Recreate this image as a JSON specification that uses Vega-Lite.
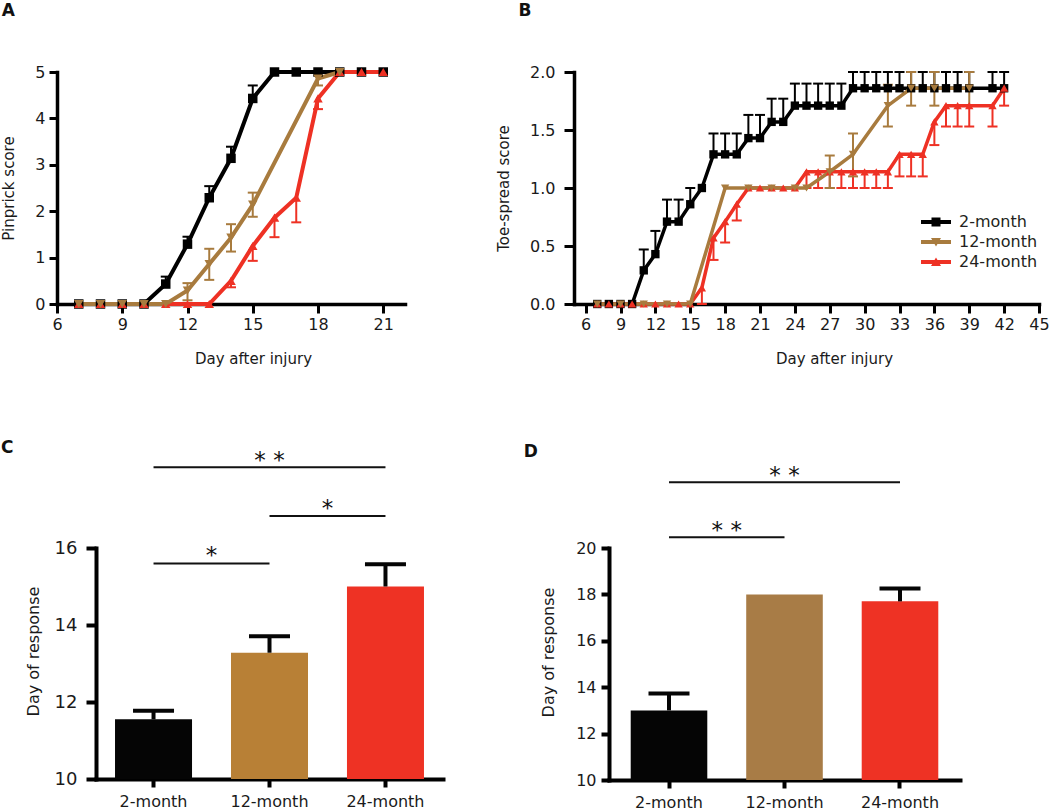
{
"$schema": "https://vega.github.io/schema/vega-lite/v6.json",
"padding": {"left": 0, "top": 2, "right": 0, "bottom": 0},
"background": "white",
"config": {
  "font": "DejaVu Sans",
  "view": {"stroke": null},
  "axis": {"grid": false, "domainColor": "#000000", "tickColor": "#000000", "labelColor": "#1a1a1a", "titleColor": "#1a1a1a", "titleFontWeight": "normal", "domainCap": "square", "labelFlush": false, "labelOverlap": false, "labelFont": "DejaVu Sans", "titleFont": "DejaVu Sans"},
  "title": {"anchor": "start", "frame": "bounds", "fontSize": 17, "fontWeight": "bold", "color": "#111111", "font": "DejaVu Sans"},
  "tick": {"opacity": 1},
  "point": {"opacity": 1}
},
"datasets": {
  "pin": [
    {"g": "2-month", "d": 7, "m": 0}, {"g": "2-month", "d": 8, "m": 0}, {"g": "2-month", "d": 9, "m": 0}, {"g": "2-month", "d": 10, "m": 0},
    {"g": "2-month", "d": 11, "m": 0.43}, {"g": "2-month", "d": 12, "m": 1.29}, {"g": "2-month", "d": 13, "m": 2.29}, {"g": "2-month", "d": 14, "m": 3.14},
    {"g": "2-month", "d": 15, "m": 4.43}, {"g": "2-month", "d": 16, "m": 5}, {"g": "2-month", "d": 17, "m": 5}, {"g": "2-month", "d": 18, "m": 5},
    {"g": "2-month", "d": 19, "m": 5}, {"g": "2-month", "d": 20, "m": 5}, {"g": "2-month", "d": 21, "m": 5},
    {"g": "24-month", "d": 7, "m": 0}, {"g": "24-month", "d": 8, "m": 0}, {"g": "24-month", "d": 9, "m": 0}, {"g": "24-month", "d": 10, "m": 0},
    {"g": "24-month", "d": 11, "m": 0}, {"g": "24-month", "d": 12, "m": 0}, {"g": "24-month", "d": 13, "m": 0}, {"g": "24-month", "d": 14, "m": 0.5},
    {"g": "24-month", "d": 15, "m": 1.25}, {"g": "24-month", "d": 16, "m": 1.86}, {"g": "24-month", "d": 17, "m": 2.29}, {"g": "24-month", "d": 18, "m": 4.43},
    {"g": "24-month", "d": 19, "m": 5}, {"g": "24-month", "d": 20, "m": 5}, {"g": "24-month", "d": 21, "m": 5},
    {"g": "12-month", "d": 7, "m": 0}, {"g": "12-month", "d": 8, "m": 0}, {"g": "12-month", "d": 9, "m": 0}, {"g": "12-month", "d": 10, "m": 0},
    {"g": "12-month", "d": 11, "m": 0}, {"g": "12-month", "d": 12, "m": 0.29}, {"g": "12-month", "d": 13, "m": 0.86}, {"g": "12-month", "d": 14, "m": 1.43},
    {"g": "12-month", "d": 15, "m": 2.14}, {"g": "12-month", "d": 18, "m": 4.86}, {"g": "12-month", "d": 19, "m": 5}
  ],
  "pinErr": [
    {"g": "2-month", "d": 11, "lo": 0.43, "hi": 0.59}, {"g": "2-month", "d": 12, "lo": 1.29, "hi": 1.45}, {"g": "2-month", "d": 13, "lo": 2.29, "hi": 2.54},
    {"g": "2-month", "d": 14, "lo": 3.14, "hi": 3.39}, {"g": "2-month", "d": 15, "lo": 4.43, "hi": 4.71},
    {"g": "24-month", "d": 14, "lo": 0.36, "hi": 0.5}, {"g": "24-month", "d": 15, "lo": 0.93, "hi": 1.25}, {"g": "24-month", "d": 16, "lo": 1.44, "hi": 1.86},
    {"g": "24-month", "d": 17, "lo": 1.76, "hi": 2.29}, {"g": "24-month", "d": 18, "lo": 4.2, "hi": 4.43},
    {"g": "12-month", "d": 12, "lo": 0.08, "hi": 0.45}, {"g": "12-month", "d": 13, "lo": 0.52, "hi": 1.19}, {"g": "12-month", "d": 14, "lo": 1.13, "hi": 1.72},
    {"g": "12-month", "d": 15, "lo": 1.88, "hi": 2.4}, {"g": "12-month", "d": 18, "lo": 4.71, "hi": 5.0}
  ],
  "toe": [
    {"g": "2-month", "d": 7, "m": 0}, {"g": "2-month", "d": 8, "m": 0}, {"g": "2-month", "d": 9, "m": 0}, {"g": "2-month", "d": 10, "m": 0},
    {"g": "2-month", "d": 11, "m": 0.29}, {"g": "2-month", "d": 12, "m": 0.43}, {"g": "2-month", "d": 13, "m": 0.71}, {"g": "2-month", "d": 14, "m": 0.71},
    {"g": "2-month", "d": 15, "m": 0.86}, {"g": "2-month", "d": 16, "m": 1.0}, {"g": "2-month", "d": 17, "m": 1.29}, {"g": "2-month", "d": 18, "m": 1.29},
    {"g": "2-month", "d": 19, "m": 1.29}, {"g": "2-month", "d": 20, "m": 1.43}, {"g": "2-month", "d": 21, "m": 1.43}, {"g": "2-month", "d": 22, "m": 1.57},
    {"g": "2-month", "d": 23, "m": 1.57}, {"g": "2-month", "d": 24, "m": 1.71}, {"g": "2-month", "d": 25, "m": 1.71}, {"g": "2-month", "d": 26, "m": 1.71},
    {"g": "2-month", "d": 27, "m": 1.71}, {"g": "2-month", "d": 28, "m": 1.71}, {"g": "2-month", "d": 29, "m": 1.86}, {"g": "2-month", "d": 30, "m": 1.86},
    {"g": "2-month", "d": 31, "m": 1.86}, {"g": "2-month", "d": 32, "m": 1.86}, {"g": "2-month", "d": 33, "m": 1.86}, {"g": "2-month", "d": 34, "m": 1.86},
    {"g": "2-month", "d": 35, "m": 1.86}, {"g": "2-month", "d": 36, "m": 1.86}, {"g": "2-month", "d": 37, "m": 1.86}, {"g": "2-month", "d": 38, "m": 1.86},
    {"g": "2-month", "d": 39, "m": 1.86}, {"g": "2-month", "d": 41, "m": 1.86}, {"g": "2-month", "d": 42, "m": 1.86},
    {"g": "24-month", "d": 7, "m": 0}, {"g": "24-month", "d": 8, "m": 0}, {"g": "24-month", "d": 9, "m": 0}, {"g": "24-month", "d": 10, "m": 0},
    {"g": "24-month", "d": 11, "m": 0}, {"g": "24-month", "d": 12, "m": 0}, {"g": "24-month", "d": 13, "m": 0}, {"g": "24-month", "d": 14, "m": 0},
    {"g": "24-month", "d": 15, "m": 0}, {"g": "24-month", "d": 16, "m": 0.14}, {"g": "24-month", "d": 17, "m": 0.57}, {"g": "24-month", "d": 18, "m": 0.71},
    {"g": "24-month", "d": 19, "m": 0.86}, {"g": "24-month", "d": 20, "m": 1.0}, {"g": "24-month", "d": 21, "m": 1.0}, {"g": "24-month", "d": 22, "m": 1.0},
    {"g": "24-month", "d": 23, "m": 1.0}, {"g": "24-month", "d": 24, "m": 1.0}, {"g": "24-month", "d": 25, "m": 1.14}, {"g": "24-month", "d": 26, "m": 1.14},
    {"g": "24-month", "d": 27, "m": 1.14}, {"g": "24-month", "d": 28, "m": 1.14}, {"g": "24-month", "d": 29, "m": 1.14}, {"g": "24-month", "d": 30, "m": 1.14},
    {"g": "24-month", "d": 31, "m": 1.14}, {"g": "24-month", "d": 32, "m": 1.14}, {"g": "24-month", "d": 33, "m": 1.29}, {"g": "24-month", "d": 34, "m": 1.29},
    {"g": "24-month", "d": 35, "m": 1.29}, {"g": "24-month", "d": 36, "m": 1.57}, {"g": "24-month", "d": 37, "m": 1.71}, {"g": "24-month", "d": 38, "m": 1.71},
    {"g": "24-month", "d": 39, "m": 1.71}, {"g": "24-month", "d": 41, "m": 1.71}, {"g": "24-month", "d": 42, "m": 1.86},
    {"g": "12-month", "d": 7, "m": 0}, {"g": "12-month", "d": 9, "m": 0}, {"g": "12-month", "d": 11, "m": 0}, {"g": "12-month", "d": 13, "m": 0},
    {"g": "12-month", "d": 15, "m": 0}, {"g": "12-month", "d": 18, "m": 1.0}, {"g": "12-month", "d": 20, "m": 1.0}, {"g": "12-month", "d": 22, "m": 1.0},
    {"g": "12-month", "d": 24, "m": 1.0}, {"g": "12-month", "d": 25, "m": 1.0}, {"g": "12-month", "d": 27, "m": 1.14}, {"g": "12-month", "d": 29, "m": 1.29},
    {"g": "12-month", "d": 32, "m": 1.71}, {"g": "12-month", "d": 34, "m": 1.86}, {"g": "12-month", "d": 36, "m": 1.86}, {"g": "12-month", "d": 39, "m": 1.86}
  ],
  "toeErr": [
    {"g": "2-month", "d": 11, "lo": 0.29, "hi": 0.47}, {"g": "2-month", "d": 12, "lo": 0.43, "hi": 0.63}, {"g": "2-month", "d": 13, "lo": 0.71, "hi": 0.9},
    {"g": "2-month", "d": 14, "lo": 0.71, "hi": 0.9}, {"g": "2-month", "d": 15, "lo": 0.86, "hi": 1.0}, {"g": "2-month", "d": 17, "lo": 1.29, "hi": 1.47},
    {"g": "2-month", "d": 18, "lo": 1.29, "hi": 1.47}, {"g": "2-month", "d": 19, "lo": 1.29, "hi": 1.47}, {"g": "2-month", "d": 20, "lo": 1.43, "hi": 1.63},
    {"g": "2-month", "d": 21, "lo": 1.43, "hi": 1.63}, {"g": "2-month", "d": 22, "lo": 1.57, "hi": 1.77}, {"g": "2-month", "d": 23, "lo": 1.57, "hi": 1.77},
    {"g": "2-month", "d": 24, "lo": 1.71, "hi": 1.9}, {"g": "2-month", "d": 25, "lo": 1.71, "hi": 1.9}, {"g": "2-month", "d": 26, "lo": 1.71, "hi": 1.9},
    {"g": "2-month", "d": 27, "lo": 1.71, "hi": 1.9}, {"g": "2-month", "d": 28, "lo": 1.71, "hi": 1.9}, {"g": "2-month", "d": 29, "lo": 1.86, "hi": 2.0},
    {"g": "2-month", "d": 30, "lo": 1.86, "hi": 2.0}, {"g": "2-month", "d": 31, "lo": 1.86, "hi": 2.0}, {"g": "2-month", "d": 32, "lo": 1.86, "hi": 2.0},
    {"g": "2-month", "d": 33, "lo": 1.86, "hi": 2.0}, {"g": "2-month", "d": 34, "lo": 1.86, "hi": 2.0}, {"g": "2-month", "d": 35, "lo": 1.86, "hi": 2.0},
    {"g": "2-month", "d": 36, "lo": 1.86, "hi": 2.0}, {"g": "2-month", "d": 37, "lo": 1.86, "hi": 2.0}, {"g": "2-month", "d": 38, "lo": 1.86, "hi": 2.0},
    {"g": "2-month", "d": 39, "lo": 1.86, "hi": 2.0}, {"g": "2-month", "d": 41, "lo": 1.86, "hi": 2.0}, {"g": "2-month", "d": 42, "lo": 1.86, "hi": 2.0},
    {"g": "24-month", "d": 16, "lo": 0, "hi": 0.14}, {"g": "24-month", "d": 17, "lo": 0.38, "hi": 0.57}, {"g": "24-month", "d": 18, "lo": 0.53, "hi": 0.71},
    {"g": "24-month", "d": 19, "lo": 0.72, "hi": 0.86}, {"g": "24-month", "d": 25, "lo": 1.0, "hi": 1.14}, {"g": "24-month", "d": 26, "lo": 1.0, "hi": 1.14},
    {"g": "24-month", "d": 27, "lo": 1.0, "hi": 1.14}, {"g": "24-month", "d": 28, "lo": 1.0, "hi": 1.14}, {"g": "24-month", "d": 29, "lo": 1.0, "hi": 1.14},
    {"g": "24-month", "d": 30, "lo": 1.0, "hi": 1.14}, {"g": "24-month", "d": 31, "lo": 1.0, "hi": 1.14}, {"g": "24-month", "d": 32, "lo": 1.0, "hi": 1.14},
    {"g": "24-month", "d": 33, "lo": 1.1, "hi": 1.29}, {"g": "24-month", "d": 34, "lo": 1.1, "hi": 1.29}, {"g": "24-month", "d": 35, "lo": 1.1, "hi": 1.29},
    {"g": "24-month", "d": 36, "lo": 1.37, "hi": 1.57}, {"g": "24-month", "d": 37, "lo": 1.53, "hi": 1.71}, {"g": "24-month", "d": 38, "lo": 1.53, "hi": 1.71},
    {"g": "24-month", "d": 39, "lo": 1.53, "hi": 1.71}, {"g": "24-month", "d": 41, "lo": 1.53, "hi": 1.71}, {"g": "24-month", "d": 42, "lo": 1.71, "hi": 1.86},
    {"g": "12-month", "d": 27, "lo": 1.0, "hi": 1.28}, {"g": "12-month", "d": 29, "lo": 1.1, "hi": 1.47}, {"g": "12-month", "d": 32, "lo": 1.53, "hi": 1.89},
    {"g": "12-month", "d": 34, "lo": 1.71, "hi": 2.0}, {"g": "12-month", "d": 36, "lo": 1.71, "hi": 2.0}, {"g": "12-month", "d": 39, "lo": 1.71, "hi": 2.0}
  ],
  "barC": [
    {"g": "2-month", "v": 11.55, "hi": 11.77}, {"g": "12-month", "v": 13.28, "hi": 13.71}, {"g": "24-month", "v": 15.0, "hi": 15.58}
  ],
  "barD": [
    {"g": "2-month", "v": 13.0, "hi": 13.73}, {"g": "12-month", "v": 18.0, "hi": null}, {"g": "24-month", "v": 17.7, "hi": 18.25}
  ],
  "sigC": [
    {"a": "2-month", "b": "12-month", "y": 15.6, "t": "*"},
    {"a": "12-month", "b": "24-month", "y": 16.83, "t": "*"},
    {"a": "2-month", "b": "24-month", "y": 18.1, "t": "* *"}
  ],
  "sigD": [
    {"a": "2-month", "b": "12-month", "y": 20.46, "t": "* *"},
    {"a": "2-month", "b": "24-month", "y": 22.83, "t": "* *"}
  ],
  "none": []
},
"resolve": {"scale": {"x": "independent", "y": "independent", "color": "independent"}, "legend": {"color": "independent"}},
"spacing": 73,
"vconcat": [
{
  "spacing": 91,
  "resolve": {"scale": {"x": "independent", "y": "independent", "color": "independent"}, "legend": {"color": "independent"}},
  "hconcat": [
  {
    "spacing": 0,
    "resolve": {"scale": {"x": "independent", "y": "independent", "color": "independent"}, "legend": {"color": "independent"}},
    "hconcat": [
    {"width": 1, "height": 1, "data": {"name": "none"}, "mark": {"type": "point", "opacity": 0}, "encoding": {}},
    {
    "width": 348, "height": 232,
    "title": {"text": "A", "offset": 44, "dx": 0},
    "layer": [
      {"data": {"name": "pinErr"}, "mark": {"type": "rule", "strokeWidth": 2},
       "encoding": {
         "x": {"field": "d", "type": "quantitative", "scale": {"domain": [6, 22], "nice": false, "zero": false},
               "axis": {"values": [6, 9, 12, 15, 18, 21], "format": "d", "title": "Day after injury", "domainWidth": 3.5, "tickWidth": 3, "tickSize": 9, "labelPadding": 3, "labelFontSize": 16, "titleFontSize": 15, "titlePadding": 19, "titleX": 196, "labelOverlap": false}},
         "y": {"field": "lo", "type": "quantitative", "scale": {"domain": [0, 5], "nice": false},
               "axis": {"values": [0, 1, 2, 3, 4, 5], "format": "d", "title": "Pinprick score", "domainWidth": 3.5, "tickWidth": 3, "tickSize": 8, "labelPadding": 4, "labelFontSize": 16, "titleFontSize": 15, "titlePadding": 18}},
         "y2": {"field": "hi"},
         "color": {"field": "g", "type": "nominal", "scale": {"domain": ["2-month", "12-month", "24-month"], "range": ["#000000", "#a87b3e", "#ee3124"]}, "legend": null}
       }},
      {"data": {"name": "pinErr"}, "transform": [{"filter": "datum.g !== '24-month'"}], "mark": {"type": "tick", "orient": "horizontal", "size": 10, "thickness": 2},
       "encoding": {"x": {"field": "d", "type": "quantitative"}, "y": {"field": "hi", "type": "quantitative"}, "color": {"field": "g", "type": "nominal", "legend": null}}},
      {"data": {"name": "pinErr"}, "transform": [{"filter": "datum.g !== '2-month'"}], "mark": {"type": "tick", "orient": "horizontal", "size": 10, "thickness": 2},
       "encoding": {"x": {"field": "d", "type": "quantitative"}, "y": {"field": "lo", "type": "quantitative"}, "color": {"field": "g", "type": "nominal", "legend": null}}},
      {"data": {"name": "pin"}, "mark": {"type": "line", "strokeWidth": 4},
       "encoding": {"x": {"field": "d", "type": "quantitative"}, "y": {"field": "m", "type": "quantitative"}, "color": {"field": "g", "type": "nominal", "legend": null}}},
      {"data": {"name": "pin"}, "transform": [{"filter": "datum.g === '2-month'"}], "mark": {"type": "point", "filled": true, "size": 90, "shape": "square"},
       "encoding": {"x": {"field": "d", "type": "quantitative"}, "y": {"field": "m", "type": "quantitative"}, "color": {"field": "g", "type": "nominal", "legend": null}}},
      {"data": {"name": "pin"}, "transform": [{"filter": "datum.g === '24-month'"}], "mark": {"type": "point", "filled": true, "size": 90, "shape": "triangle-up"},
       "encoding": {"x": {"field": "d", "type": "quantitative"}, "y": {"field": "m", "type": "quantitative"}, "color": {"field": "g", "type": "nominal", "legend": null}}},
      {"data": {"name": "pin"}, "transform": [{"filter": "datum.g === '12-month'"}], "mark": {"type": "point", "filled": true, "size": 90, "shape": "triangle-down"},
       "encoding": {"x": {"field": "d", "type": "quantitative"}, "y": {"field": "m", "type": "quantitative"}, "color": {"field": "g", "type": "nominal", "legend": null}}}
    ]
    }
    ]
  },
  {
    "width": 465, "height": 232,
    "title": {"text": "B", "offset": 44, "dx": 22},
    "layer": [
      {"data": {"name": "toeErr"}, "mark": {"type": "rule", "strokeWidth": 2},
       "encoding": {
         "x": {"field": "d", "type": "quantitative", "scale": {"domain": [5, 45], "nice": false, "zero": false},
               "axis": {"values": [6, 9, 12, 15, 18, 21, 24, 27, 30, 33, 36, 39, 42, 45], "tickCount": 40, "format": "d", "title": "Day after injury", "domainWidth": 3.5, "tickWidth": 3, "tickSize": 9, "labelPadding": 3, "labelFontSize": 16, "titleFontSize": 15, "titlePadding": 19, "titleX": 260, "labelOverlap": false}},
         "y": {"field": "lo", "type": "quantitative", "scale": {"domain": [0, 2], "nice": false},
               "axis": {"values": [0, 0.5, 1, 1.5, 2], "format": ".1f", "title": "Toe-spread score", "domainWidth": 3.5, "tickWidth": 3, "tickSize": 10, "labelPadding": 9, "labelFontSize": 16, "titleFontSize": 15, "titlePadding": 18}},
         "y2": {"field": "hi"},
         "color": {"field": "g", "type": "nominal", "scale": {"domain": ["2-month", "12-month", "24-month"], "range": ["#000000", "#a87b3e", "#ee3124"]},
                   "legend": {"orient": "none", "legendX": 352, "legendY": 140, "title": null, "padding": 0, "labelFontSize": 16, "labelColor": "#231f20", "labelFont": "DejaVu Sans", "symbolSize": 400, "rowPadding": 2, "labelOffset": 13, "symbolStrokeWidth": 0,
                     "encode": {"symbols": {"update": {
                       "shape": {"signal": "datum.value === '2-month' ? 'M-1.5,-0.2H1.5V0.2H-1.5Z M-0.45,-0.45H0.45V0.45H-0.45Z' : datum.value === '12-month' ? 'M-1.5,-0.2H1.5V0.2H-1.5Z M-0.5,-0.4L0.5,-0.4L0,0.45Z' : 'M-1.5,-0.2H1.5V0.2H-1.5Z M-0.5,0.4L0,-0.45L0.5,0.4Z'"},
                       "fill": {"signal": "datum.value === '2-month' ? '#000000' : datum.value === '12-month' ? '#a87b3e' : '#ee3124'"},
                       "fillOpacity": {"value": 1}, "strokeWidth": {"value": 0}, "opacity": {"value": 1}}}}}}
       }},
      {"data": {"name": "toeErr"}, "transform": [{"filter": "datum.g !== '24-month'"}], "mark": {"type": "tick", "orient": "horizontal", "size": 10, "thickness": 2},
       "encoding": {"x": {"field": "d", "type": "quantitative"}, "y": {"field": "hi", "type": "quantitative"}, "color": {"field": "g", "type": "nominal"}}},
      {"data": {"name": "toeErr"}, "transform": [{"filter": "datum.g !== '2-month'"}], "mark": {"type": "tick", "orient": "horizontal", "size": 10, "thickness": 2},
       "encoding": {"x": {"field": "d", "type": "quantitative"}, "y": {"field": "lo", "type": "quantitative"}, "color": {"field": "g", "type": "nominal"}}},
      {"data": {"name": "toe"}, "mark": {"type": "line", "strokeWidth": 3.5},
       "encoding": {"x": {"field": "d", "type": "quantitative"}, "y": {"field": "m", "type": "quantitative"}, "color": {"field": "g", "type": "nominal"}}},
      {"data": {"name": "toe"}, "transform": [{"filter": "datum.g === '2-month'"}], "mark": {"type": "point", "filled": true, "size": 70, "shape": "square"},
       "encoding": {"x": {"field": "d", "type": "quantitative"}, "y": {"field": "m", "type": "quantitative"}, "color": {"field": "g", "type": "nominal"}}},
      {"data": {"name": "toe"}, "transform": [{"filter": "datum.g === '24-month'"}], "mark": {"type": "point", "filled": true, "size": 70, "shape": "triangle-up"},
       "encoding": {"x": {"field": "d", "type": "quantitative"}, "y": {"field": "m", "type": "quantitative"}, "color": {"field": "g", "type": "nominal"}}},
      {"data": {"name": "toe"}, "transform": [{"filter": "datum.g === '12-month'"}], "mark": {"type": "point", "filled": true, "size": 70, "shape": "triangle-down"},
       "encoding": {"x": {"field": "d", "type": "quantitative"}, "y": {"field": "m", "type": "quantitative"}, "color": {"field": "g", "type": "nominal"}}}
    ]
  }
  ]
},
{
  "spacing": 80,
  "resolve": {"scale": {"x": "independent", "y": "independent", "color": "independent"}, "legend": {"color": "independent"}},
  "hconcat": [
  {
    "spacing": 0,
    "resolve": {"scale": {"x": "independent", "y": "independent", "color": "independent"}, "legend": {"color": "independent"}},
    "hconcat": [
    {"width": 1, "height": 1, "data": {"name": "none"}, "mark": {"type": "point", "opacity": 0}, "encoding": {}},
    {
    "width": 347, "height": 231,
    "title": {"text": "C", "offset": -7, "dx": -24},
    "layer": [
      {"data": {"name": "barC"}, "mark": {"type": "bar", "clip": true},
       "encoding": {
         "x": {"field": "g", "type": "nominal", "scale": {"type": "band", "domain": ["2-month", "12-month", "24-month"], "paddingInner": 0.336, "paddingOuter": 0.164},
               "axis": {"title": null, "labelAngle": 0, "labelFontSize": 16, "tickSize": 8, "tickWidth": 4, "domainWidth": 4, "labelPadding": 6}},
         "y": {"field": "v", "type": "quantitative", "scale": {"domain": [10, 16], "nice": false, "zero": false},
               "axis": {"values": [10, 12, 14, 16], "format": "d", "title": "Day of response", "titleFontSize": 16, "labelFontSize": 18, "tickSize": 10, "tickWidth": 4, "domainWidth": 4, "labelPadding": 9, "titlePadding": 13, "titleY": 103}},
         "color": {"field": "g", "type": "nominal", "scale": {"domain": ["2-month", "12-month", "24-month"], "range": ["#050505", "#b88036", "#ee3224"]}, "legend": null}
       }},
      {"data": {"name": "barC"}, "mark": {"type": "rule", "strokeWidth": 4, "color": "#050505"},
       "encoding": {"x": {"field": "g", "type": "nominal"}, "y": {"field": "v", "type": "quantitative"}, "y2": {"field": "hi"}}},
      {"data": {"name": "barC"}, "mark": {"type": "tick", "orient": "horizontal", "size": 41, "thickness": 4, "color": "#050505"},
       "encoding": {"x": {"field": "g", "type": "nominal"}, "y": {"field": "hi", "type": "quantitative"}}},
      {"data": {"name": "sigC"}, "mark": {"type": "rule", "strokeWidth": 2, "color": "#111111"},
       "encoding": {"x": {"field": "a", "type": "nominal"}, "x2": {"field": "b"}, "y": {"field": "y", "type": "quantitative"}}},
      {"data": {"name": "sigC"}, "transform": [{"filter": "!(datum.a === '2-month' && datum.b === '24-month')"}], "mark": {"type": "text", "fontSize": 23, "dy": 0, "baseline": "alphabetic", "color": "#111111"},
       "encoding": {"x": {"field": "b", "type": "nominal", "bandPosition": -0.253}, "y": {"field": "y", "type": "quantitative"}, "text": {"field": "t"}}},
      {"data": {"name": "sigC"}, "transform": [{"filter": "datum.a === '2-month' && datum.b === '24-month'"}], "mark": {"type": "text", "fontSize": 23, "dy": 1, "baseline": "alphabetic", "color": "#111111"},
       "encoding": {"x": {"field": "b", "type": "nominal", "bandPosition": -1.006}, "y": {"field": "y", "type": "quantitative"}, "text": {"field": "t"}}}
    ]
    }
    ]
  },
  {
    "width": 351, "height": 232,
    "title": {"text": "D", "offset": 4, "dx": -17},
    "layer": [
      {"data": {"name": "barD"}, "mark": {"type": "bar", "clip": true},
       "encoding": {
         "x": {"field": "g", "type": "nominal", "scale": {"type": "band", "domain": ["2-month", "12-month", "24-month"], "paddingInner": 0.337, "paddingOuter": 0.188},
               "axis": {"title": null, "labelAngle": 0, "labelFontSize": 16, "tickSize": 8, "tickWidth": 4, "domainWidth": 4, "labelPadding": 6}},
         "y": {"field": "v", "type": "quantitative", "scale": {"domain": [10, 20], "nice": false, "zero": false},
               "axis": {"values": [10, 12, 14, 16, 18, 20], "format": "d", "title": "Day of response", "titleFontSize": 16, "labelFontSize": 16, "tickSize": 8, "tickWidth": 4, "domainWidth": 4, "labelPadding": 5, "titlePadding": 19, "titleY": 104}},
         "color": {"field": "g", "type": "nominal", "scale": {"domain": ["2-month", "12-month", "24-month"], "range": ["#050505", "#a87c46", "#ee3224"]}, "legend": null}
       }},
      {"data": {"name": "barD"}, "transform": [{"filter": "isValid(datum.hi)"}], "mark": {"type": "rule", "strokeWidth": 4, "color": "#050505"},
       "encoding": {"x": {"field": "g", "type": "nominal"}, "y": {"field": "v", "type": "quantitative"}, "y2": {"field": "hi"}}},
      {"data": {"name": "barD"}, "transform": [{"filter": "isValid(datum.hi)"}], "mark": {"type": "tick", "orient": "horizontal", "size": 41, "thickness": 4, "color": "#050505"},
       "encoding": {"x": {"field": "g", "type": "nominal"}, "y": {"field": "hi", "type": "quantitative"}}},
      {"data": {"name": "sigD"}, "mark": {"type": "rule", "strokeWidth": 2, "color": "#111111"},
       "encoding": {"x": {"field": "a", "type": "nominal"}, "x2": {"field": "b"}, "y": {"field": "y", "type": "quantitative"}}},
      {"data": {"name": "sigD"}, "transform": [{"filter": "datum.b === '12-month'"}], "mark": {"type": "text", "fontSize": 23, "dy": 1, "baseline": "alphabetic", "color": "#111111"},
       "encoding": {"x": {"field": "b", "type": "nominal", "bandPosition": -0.254}, "y": {"field": "y", "type": "quantitative"}, "text": {"field": "t"}}},
      {"data": {"name": "sigD"}, "transform": [{"filter": "datum.b === '24-month'"}], "mark": {"type": "text", "fontSize": 23, "dy": 1, "baseline": "alphabetic", "color": "#111111"},
       "encoding": {"x": {"field": "b", "type": "nominal", "bandPosition": -1.008}, "y": {"field": "y", "type": "quantitative"}, "text": {"field": "t"}}}
    ]
  }
  ]
}
]
}
